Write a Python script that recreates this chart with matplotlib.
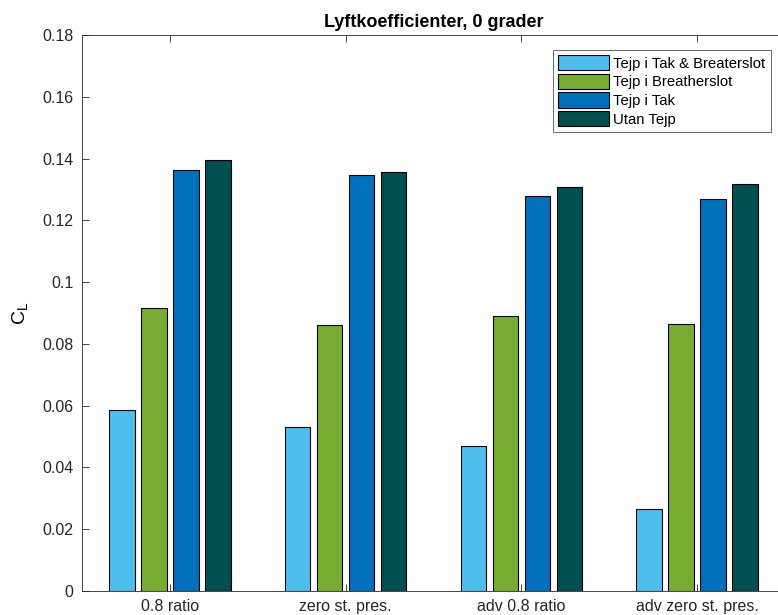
import matplotlib
matplotlib.use("Agg")
import matplotlib.pyplot as plt
import numpy as np

plt.rcParams['font.family'] = ['Liberation Sans', 'DejaVu Sans']

categories = ["0.8 ratio", "zero st. pres.", "adv 0.8 ratio", "adv zero st. pres."]
series_names = ["Tejp i Tak & Breaterslot", "Tejp i Breatherslot", "Tejp i Tak", "Utan Tejp"]
tak_breaterslot = [0.0586, 0.0531, 0.0469, 0.0265]
breatherslot = [0.0917, 0.0861, 0.0890, 0.0865]
tak = [0.1363, 0.1348, 0.1279, 0.1268]
utan_tejp = [0.1395, 0.1357, 0.1308, 0.1319]
yticks = [0, 0.02, 0.04, 0.06, 0.08, 0.1, 0.12, 0.14, 0.16, 0.18]
ytick_labels = ["0", "0.02", "0.04", "0.06", "0.08", "0.1", "0.12", "0.14", "0.16", "0.18"]
colors = ["#4DBEEE", "#77AC30", "#0072BD", "#00504F"]

W, H = 778, 615
fig = plt.figure(figsize=(W / 100, H / 100), dpi=100)
left, right, top, bottom = 82, 785, 35, 591
ax = fig.add_axes([left / W, 1 - bottom / H, (right - left) / W, (bottom - top) / H])

x = np.arange(1, len(categories) + 1)
step = 0.182
width = 0.145
data = [tak_breaterslot, breatherslot, tak, utan_tejp]
for i, (vals, name, c) in enumerate(zip(data, series_names, colors)):
    ax.bar(x + (i - 1.5) * step, vals, width, color=c, edgecolor="black",
           linewidth=0.8, label=name)

ax.set_xlim(0.5, 4.5)
ax.set_ylim(0, 0.18)
ax.set_xticks(x)
ax.set_xticklabels(categories, fontsize=11.5)
ax.set_yticks(yticks)
ax.set_yticklabels(ytick_labels, fontsize=11.5)
ax.tick_params(direction="in", top=True, right=True, length=5, width=0.6,
               color="#262626", labelcolor="#262626", pad=6)
for s in ax.spines.values():
    s.set_color("#262626")
    s.set_linewidth(0.6)

ax.set_title("Lyftkoefficienter, 0 grader", fontsize=13, fontweight="bold", pad=6)
ax.set_ylabel("C$_\\mathregular{L}$", fontsize=14, labelpad=8)

leg = fig.legend(loc="upper left", bbox_to_anchor=(553 / W, 1 - 50 / H), fontsize=10.7,
                 frameon=True, fancybox=False, edgecolor="#262626",
                 handlelength=3.4, handleheight=1.2, handletextpad=0.3,
                 labelspacing=0.2, borderpad=0.35, borderaxespad=0)
leg.get_frame().set_linewidth(0.6)

fig.savefig("out.png", dpi=100)
